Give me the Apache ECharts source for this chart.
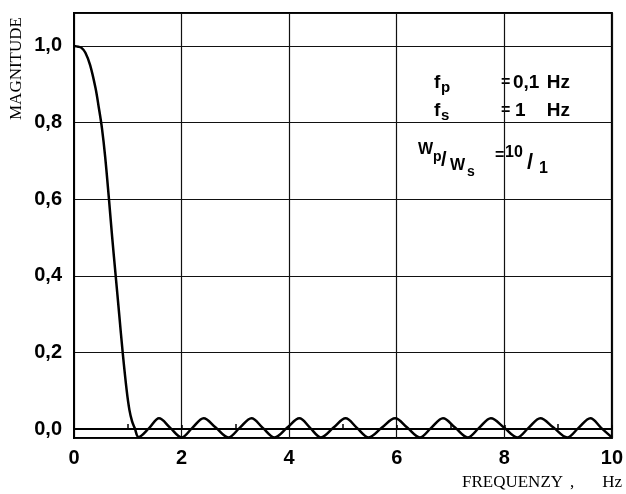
<!DOCTYPE html>
<html>
<head>
<meta charset="utf-8">
<script src="https://cdn.jsdelivr.net/npm/echarts@6/dist/echarts.min.js"></script>
<style>
html, body { margin: 0; padding: 0; background: #fff; }
#main { width: 626px; height: 494px; }
</style>
</head>
<body>
<div id="main"></div>
<script>
// frequency (Hz)
var freq = [0, 0.08, 0.14, 0.21, 0.30, 0.40, 0.46, 0.52, 0.58, 0.65, 0.71, 0.775, 0.84, 0.905, 0.98, 1.03, 1.08, 1.13,
  1.20, 1.40, 1.58, 1.79, 2.0, 2.2, 2.41, 2.64, 2.87, 3.08, 3.3, 3.51, 3.73, 3.96, 4.19, 4.39, 4.59, 4.82,
  5.05, 5.26, 5.48, 5.72, 5.97, 6.2, 6.43, 6.64, 6.86, 7.09, 7.32, 7.53, 7.75, 8.0, 8.24, 8.45, 8.67, 8.92,
  9.17, 9.38, 9.6, 9.8, 10.0]
// magnitude
var magnitude = [1.0, 0.998, 0.995, 0.983, 0.95, 0.89, 0.84, 0.785, 0.71, 0.60, 0.50, 0.40, 0.30, 0.20, 0.10, 0.05, 0.02, 0.002,
  -0.021, 0.003, 0.028, 0.003, -0.022, 0.003, 0.028, 0.003, -0.022, 0.003, 0.028, 0.003, -0.022, 0.003, 0.028, 0.003, -0.022, 0.003,
  0.028, 0.003, -0.022, 0.003, 0.028, 0.003, -0.022, 0.003, 0.028, 0.003, -0.022, 0.003, 0.028, 0.003, -0.022, 0.003, 0.028, 0.003,
  -0.022, 0.003, 0.028, 0.003, -0.022]
var xTicks = [0, 2, 4, 6, 8, 10]
var yTicks = ['0,0', '0,2', '0,4', '0,6', '0,8', '1,0']

var chartDom = document.getElementById('main')
var myChart = echarts.init(chartDom, null, { renderer: 'canvas' })

var points = []
for (var i = 0; i < freq.length; i++) {
  points.push([freq[i], magnitude[i]])
}

var sansFont = '"Liberation Sans", Arial, sans-serif'
var serifFont = '"Liberation Serif", "DejaVu Serif", serif'

function txt(x, y, s, size, extra) {
  var style = { text: s, fill: '#000', font: 'bold ' + size + 'px ' + sansFont, verticalAlign: 'middle' }
  if (extra) style.align = extra
  return { type: 'text', x: x, y: y, style: style }
}

var option = {
  animation: false,
  grid: {
    left: 74,
    right: 14,
    top: 13,
    bottom: 56,
    show: true,
    borderColor: '#000',
    borderWidth: 2
  },
  xAxis: {
    type: 'value',
    min: 0,
    max: 10,
    interval: 2,
    axisLine: { show: true, lineStyle: { color: '#000', width: 2 } },
    axisTick: { show: true, inside: true, length: 4, lineStyle: { color: '#000', width: 1.5 } },
    minorTick: { show: true, splitNumber: 2, length: 5, lineStyle: { color: '#000', width: 1.5 } },
    splitLine: { show: true, lineStyle: { color: '#111', width: 1.2 } },
    axisLabel: {
      color: '#000',
      fontFamily: sansFont,
      fontWeight: 'bold',
      fontSize: 20,
      margin: 10,
      formatter: function (v) {
        return xTicks.indexOf(v) >= 0 ? String(v) : ''
      }
    }
  },
  yAxis: {
    type: 'value',
    min: -0.0235,
    max: 1.086,
    splitNumber: 5,
    axisLine: { show: true, lineStyle: { color: '#000', width: 2 } },
    axisTick: { show: false },
    splitLine: { show: true, lineStyle: { color: '#111', width: 1.2 } },
    axisLabel: {
      color: '#000',
      fontFamily: sansFont,
      fontWeight: 'bold',
      fontSize: 20,
      margin: 12,
      showMinLabel: false,
      showMaxLabel: false,
      formatter: function (v) {
        var k = Math.round(v / 0.2)
        if (Math.abs(v - k * 0.2) > 1e-6 || k < 0 || k >= yTicks.length) return ''
        return yTicks[k]
      }
    }
  },
  graphic: [
    { type: 'text', x: 25, y: 120, rotation: Math.PI / 2,
      style: { text: 'MAGNITUDE', fill: '#000', font: '17px ' + serifFont, verticalAlign: 'bottom' } },
    { type: 'text', x: 462, y: 483, style: { text: 'FREQUENZY', fill: '#000', font: '17px ' + serifFont, verticalAlign: 'middle' } },
    { type: 'text', x: 570, y: 483, style: { text: ',', fill: '#000', font: '17px ' + serifFont, verticalAlign: 'middle' } },
    { type: 'text', x: 622, y: 483, style: { text: 'Hz', fill: '#000', font: '17px ' + serifFont, align: 'right', verticalAlign: 'middle' } },
    // parameter box
    txt(434, 83, 'f', 19),
    txt(441, 88, 'p', 15),
    txt(501, 83, '=', 16),
    txt(513, 83, '0,1', 19),
    txt(570, 83, 'Hz', 19, 'right'),
    txt(434, 111, 'f', 19),
    txt(441, 116, 's', 15),
    txt(501, 111, '=', 16),
    txt(515, 111, '1', 19),
    txt(570, 111, 'Hz', 19, 'right'),
    txt(418, 150, 'W', 16),
    txt(433, 157, 'p', 14),
    txt(441, 160, '/', 20),
    txt(450, 166, 'W', 16),
    txt(467, 172, 's', 14),
    txt(495, 156, '=', 16),
    txt(505, 153, '10', 16),
    txt(527, 163, '/', 22),
    txt(539, 169, '1', 16)
  ],
  series: [
    {
      type: 'line',
      data: points,
      smooth: 0.35,
      showSymbol: false,
      lineStyle: { color: '#000', width: 2.5 }
    }
  ]
}
option && myChart.setOption(option)
</script>
</body>
</html>
